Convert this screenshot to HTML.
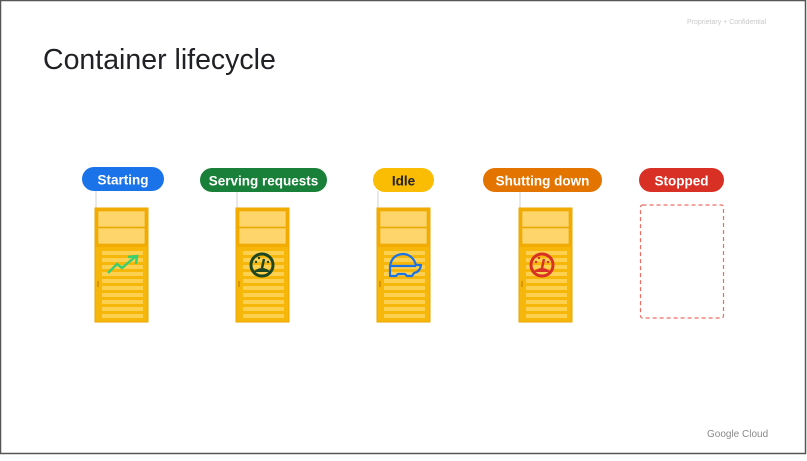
<!DOCTYPE html>
<html><head><style>
html,body{margin:0;padding:0;background:#fff;}
body{width:807px;height:456px;overflow:hidden;font-family:"Liberation Sans",Arial,sans-serif;}
</style></head><body>
<svg width="807" height="456" viewBox="0 0 807 456" xmlns="http://www.w3.org/2000/svg" font-family="Liberation Sans, Arial, sans-serif">
<defs>
<g id="c">
 <rect x="0" y="0" width="53" height="114" fill="#f6b60a" stroke="#eaa700" stroke-width="1"/>
 <rect x="0" y="0" width="53" height="39" fill="#f2ab00"/>
 <rect x="3" y="3" width="47" height="16" fill="#fdd56a" stroke="#eaa700" stroke-width="0.6"/>
 <rect x="3" y="20" width="47" height="16" fill="#fdd56a" stroke="#eaa700" stroke-width="0.6"/>
 <g fill="#fdd050">
  <rect x="7" y="43" width="41" height="4"/><rect x="7" y="50" width="41" height="4"/>
  <rect x="7" y="57" width="41" height="4"/><rect x="7" y="64" width="41" height="4"/>
  <rect x="7" y="71" width="41" height="4"/><rect x="7" y="78" width="41" height="4"/>
  <rect x="7" y="85" width="41" height="4"/><rect x="7" y="92" width="41" height="4"/>
  <rect x="7" y="99" width="41" height="4"/><rect x="7" y="106" width="41" height="4"/>
 </g>
 <rect x="2" y="73" width="2" height="6" fill="#d99500"/>
</g>
</defs>
<rect x="0.5" y="0.5" width="805" height="453" fill="#fff" stroke="#555" stroke-width="1.5"/>
<text x="687" y="24" font-size="7" fill="#c9c9c9">Proprietary + Confidential</text>
<text x="43" y="69" font-size="28.5" fill="#202124">Container lifecycle</text>
<text x="707" y="437" font-size="10" fill="#8a8a8a">Google Cloud</text>

<g stroke="#d0d0d0" stroke-width="1">
<line x1="96" y1="191" x2="96" y2="208"/><line x1="237" y1="191" x2="237" y2="208"/>
<line x1="378" y1="191" x2="378" y2="208"/><line x1="520" y1="191" x2="520" y2="208"/>
</g>

<g font-size="13.5" font-weight="bold" text-anchor="middle">
<rect x="82" y="167" width="82" height="24" rx="12" fill="#1a73e8"/>
<text x="123" y="184.5" fill="#fff">Starting</text>
<rect x="200" y="168" width="127" height="24" rx="12" fill="#188038"/>
<text x="263.5" y="185.5" fill="#fff">Serving requests</text>
<rect x="373" y="168" width="61" height="24" rx="12" fill="#fbbc04"/>
<text x="403.5" y="185.5" fill="#202124">Idle</text>
<rect x="483" y="168" width="119" height="24" rx="12" fill="#e37400"/>
<text x="542.5" y="185.5" fill="#fff">Shutting down</text>
<rect x="639" y="168" width="85" height="24" rx="12" fill="#d93025"/>
<text x="681.5" y="185.5" fill="#fff">Stopped</text>
</g>

<use href="#c" x="95" y="208"/>
<use href="#c" x="236" y="208"/>
<use href="#c" x="377" y="208"/>
<use href="#c" x="519" y="208"/>

<rect x="640.5" y="205" width="83" height="113" rx="2" fill="none" stroke="#ee6d63" stroke-width="1.2" stroke-dasharray="4,3"/>

<polyline points="108,273 117,264 122,268 135,257" fill="none" stroke="#3ccf6f" stroke-width="2.5"/>
<polyline points="128,257 137,256 136,264" fill="none" stroke="#3ccf6f" stroke-width="2.5"/>
<g transform="translate(262,265)">
 <circle r="11" fill="none" stroke="#1e4620" stroke-width="3"/>
 <path d="M-9,7 Q0,-1 9,7 Z" fill="#1e4620"/>
 <line x1="0" y1="3" x2="2" y2="-6" stroke="#1e4620" stroke-width="2.5"/>
 <circle cx="-6" cy="-3" r="1.2" fill="#1e4620"/><circle cx="-3" cy="-7" r="1.2" fill="#1e4620"/><circle cx="6" cy="-3" r="1.2" fill="#1e4620"/>
</g>
<g transform="translate(542,265)">
 <circle r="11" fill="none" stroke="#d93025" stroke-width="3"/>
 <path d="M-9,7 Q0,-1 9,7 Z" fill="#d93025"/>
 <line x1="0" y1="3" x2="2" y2="-6" stroke="#d93025" stroke-width="2.5"/>
 <circle cx="-6" cy="-3" r="1.2" fill="#d93025"/><circle cx="-3" cy="-7" r="1.2" fill="#d93025"/><circle cx="6" cy="-3" r="1.2" fill="#d93025"/>
</g>
<path d="M390,276 L390,266 Q392,254 404,254 Q413,255 416,265 L421,265 Q420,272 414,273 L412,276 L407,276 L405,274 L398,274 L396,276 Z M390,266 L416,266" fill="none" stroke="#1a73e8" stroke-width="2.2" stroke-linejoin="round"/>
</svg>
</body></html>
